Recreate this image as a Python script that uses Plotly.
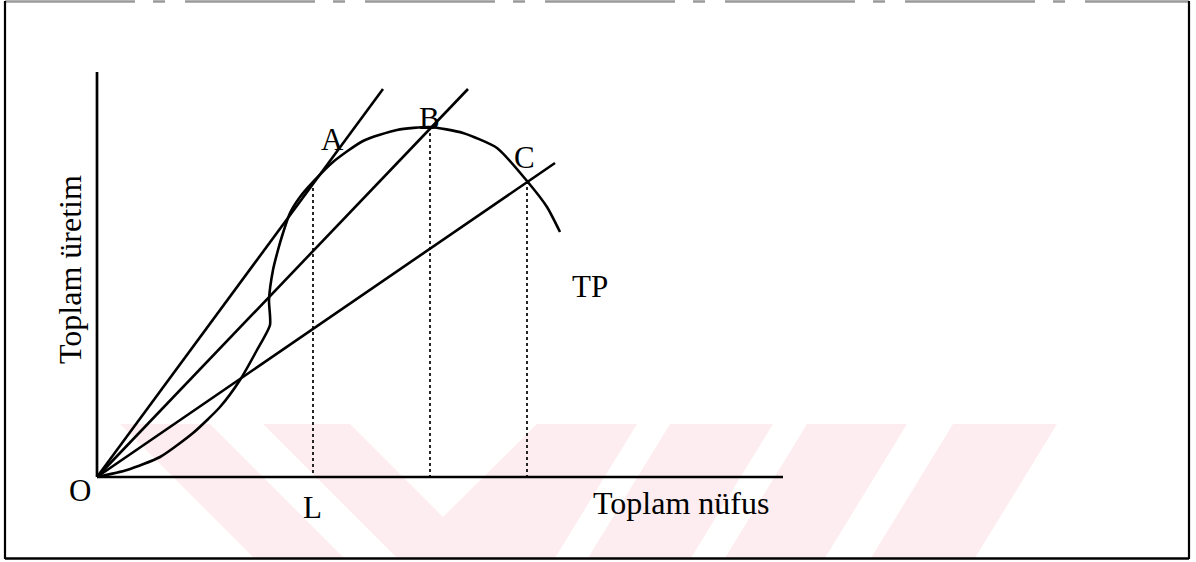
import plotly.graph_objects as go

# ---- data (x = total population, y = total product) ----
tp_x = [0, 30, 63, 96, 123, 143, 160, 173, 172, 176, 181, 186, 193, 203, 216,
        236, 266, 300, 333, 366, 400, 430, 450, 463]
tp_y = [0, 7, 20, 44, 70, 97, 127, 152, 177, 207, 227, 244, 264, 280, 295,
        315, 336, 347, 350, 344, 329, 296, 270, 245]

point_names = ["A", "B", "C"]
point_x = [216, 333, 430]
point_y = [295, 350, 296]

ray_end_x = [286, 371, 458]
ray_end_y = [388, 388, 314]

yaxis_top = 405
xaxis_end = 686

# ---- helpers: pixel -> data (plot area fills the page) ----
OX, OY = 97, 477
def X(px):
    return px - OX
def Y(py):
    return OY - py

FONT = "Liberation Serif, Times New Roman, serif"
BLACK = "#000000"

fig = go.Figure()

# total product curve
fig.add_trace(go.Scatter(x=tp_x, y=tp_y, mode="lines",
                         line=dict(color=BLACK, width=2.6, shape="spline", smoothing=0.6),
                         hoverinfo="skip", showlegend=False))

# rays from origin
for ex, ey in zip(ray_end_x, ray_end_y):
    fig.add_trace(go.Scatter(x=[0, ex], y=[0, ey], mode="lines",
                             line=dict(color=BLACK, width=2.6),
                             hoverinfo="skip", showlegend=False))

# dotted drop lines
for px_, py_ in zip(point_x, point_y):
    fig.add_trace(go.Scatter(x=[px_, px_], y=[py_, 0], mode="lines",
                             line=dict(color=BLACK, width=1.7, dash="dot"),
                             hoverinfo="skip", showlegend=False))

# axes
fig.add_trace(go.Scatter(x=[0, 0], y=[yaxis_top, 0], mode="lines",
                         line=dict(color=BLACK, width=2.7),
                         hoverinfo="skip", showlegend=False))
fig.add_trace(go.Scatter(x=[0, xaxis_end], y=[0, 0], mode="lines",
                         line=dict(color=BLACK, width=2.7),
                         hoverinfo="skip", showlegend=False))

# ---- watermark (light pink V and slanted stripes) ----
pink = "#fdedf0"
polys = [
    [(120, 424), (210, 424), (344, 558), (254, 558)],
    [(263, 424), (350, 424), (443, 517), (537, 424), (637, 424), (555, 558), (397, 558)],
    [(670, 424), (773, 424), (691, 558), (588, 558)],
    [(807, 424), (907, 424), (825, 558), (725, 558)],
    [(953, 424), (1057, 424), (975, 558), (871, 558)],
]
shapes = []
for poly in polys:
    path = "M " + " L ".join(f"{X(a)},{Y(b)}" for a, b in poly) + " Z"
    shapes.append(dict(type="path", path=path, xref="x", yref="y",
                       fillcolor=pink, line=dict(width=0), layer="below"))

# ---- frame ----
shapes.append(dict(type="line", xref="x", yref="y", x0=X(5), x1=X(1189), y0=Y(1.5), y1=Y(1.5),
                   line=dict(color="#9a9a9a", width=2.5, dash="130px,18px,12px,20px")))
shapes.append(dict(type="line", xref="x", yref="y", x0=X(5), x1=X(5), y0=Y(1), y1=Y(559),
                   line=dict(color=BLACK, width=2.2)))
shapes.append(dict(type="line", xref="x", yref="y", x0=X(1189), x1=X(1189), y0=Y(1), y1=Y(559),
                   line=dict(color=BLACK, width=2.2)))
shapes.append(dict(type="line", xref="x", yref="y", x0=X(5), x1=X(1189), y0=Y(558.5), y1=Y(558.5),
                   line=dict(color=BLACK, width=2.5)))

# ---- labels ----
ann = []
def label(text, px, py, size=31, angle=0):
    ann.append(dict(text=text, x=X(px), y=Y(py), xref="x", yref="y", showarrow=False,
                    xanchor="center", yanchor="middle", textangle=angle,
                    font=dict(family=FONT, size=size, color=BLACK)))

label_pos = {"A": (332, 139), "B": (429, 118), "C": (524, 157)}
for n in point_names:
    label(n, *label_pos[n])
label("TP", 590, 286)
label("O", 80, 490)
label("L", 312, 507)
label("Toplam nüfus", 681, 503, size=32)
label("Toplam üretim", 70, 270, size=32, angle=-90)

fig.update_layout(
    width=1196, height=562, autosize=False,
    margin=dict(l=0, r=0, t=0, b=0, pad=0),
    paper_bgcolor="white", plot_bgcolor="white",
    xaxis=dict(range=[X(0), X(1196)], visible=False, fixedrange=True),
    yaxis=dict(range=[Y(562), Y(0)], visible=False, fixedrange=True),
    shapes=shapes, annotations=ann, showlegend=False,
)

fig.write_html(
    "out.html",
    config={"displayModeBar": False},
    post_script="document.body.style.margin='0px';document.body.style.padding='0px';"
                "document.documentElement.style.overflow='hidden';",
)
